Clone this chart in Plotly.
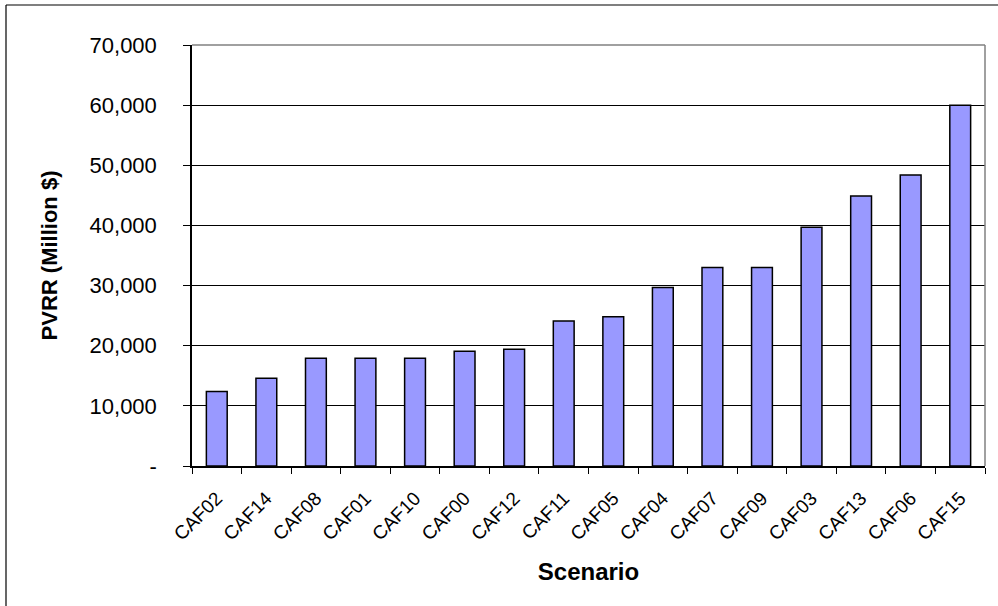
import plotly.graph_objects as go

scenarios = ["CAF02", "CAF14", "CAF08", "CAF01", "CAF10", "CAF00", "CAF12", "CAF11",
             "CAF05", "CAF04", "CAF07", "CAF09", "CAF03", "CAF13", "CAF06", "CAF15"]
pvrr = [12400, 14600, 17900, 17900, 17900, 19100, 19400, 24100,
        24800, 29700, 33000, 33000, 39700, 44900, 48400, 60000]
y_tickvals = [0, 10000, 20000, 30000, 40000, 50000, 60000, 70000]
y_ticktext = ["-", "10,000", "20,000", "30,000", "40,000", "50,000", "60,000", "70,000"]

FONT = "Liberation Sans, Arial, sans-serif"
W, H = 998, 606
L, R, T, B = 192, 13, 45, 140
pw, ph = W - L - R, H - T - B

fig = go.Figure(go.Bar(
    x=scenarios, y=pvrr,
    marker=dict(color="#9999FF", line=dict(color="#000000", width=1.5)),
))

fx0 = (6 - L) / pw
fy1 = 1 + (T - 5) / ph

fig.update_layout(
    width=W, height=H,
    margin=dict(l=L, r=R, t=T, b=B, pad=0),
    paper_bgcolor="white", plot_bgcolor="white",
    bargap=0.58,
    showlegend=False,
    font=dict(family=FONT, color="black"),
    xaxis=dict(
        type="category",
        showline=True, linecolor="black", linewidth=1.5,
        ticks="outside", tickson="boundaries", ticklen=6, tickcolor="black", tickwidth=1,
        tickangle=-45, tickfont=dict(size=19, family=FONT),
        ticklabelstandoff=12,
        showgrid=False,
        title=dict(text="<b>Scenario</b>", font=dict(size=24, family=FONT), standoff=20),
    ),
    yaxis=dict(
        range=[0, 70000],
        tickvals=y_tickvals, ticktext=y_ticktext,
        showline=True, linecolor="black", linewidth=1.5,
        ticks="outside", ticklen=7, tickcolor="black", tickwidth=1,
        ticklabelstandoff=22,
        tickfont=dict(size=22, family=FONT),
        showgrid=True, gridcolor="#000000", gridwidth=1,
        zeroline=False,
        title=dict(text="<b>PVRR (Million $)</b>", font=dict(size=22, family=FONT), standoff=26),
    ),
    shapes=[
        # plot area border (gray, top and right)
        dict(type="line", xref="paper", yref="paper", x0=0, x1=1, y0=1, y1=1,
             line=dict(color="#808080", width=1.5), layer="above"),
        dict(type="line", xref="paper", yref="paper", x0=1, x1=1, y0=0, y1=1,
             line=dict(color="#808080", width=1.5), layer="above"),
        # outer chart frame (top and left edges visible)
        dict(type="line", xref="paper", yref="paper", x0=fx0, x1=(W + 20 - L) / pw,
             y0=fy1, y1=fy1, line=dict(color="black", width=1.2), layer="below"),
        dict(type="line", xref="paper", yref="paper", x0=fx0, x1=fx0,
             y0=-(H + 20 - (H - B)) / ph, y1=fy1, line=dict(color="black", width=1.2), layer="below"),
    ],
)

fig.write_html("out.html")
